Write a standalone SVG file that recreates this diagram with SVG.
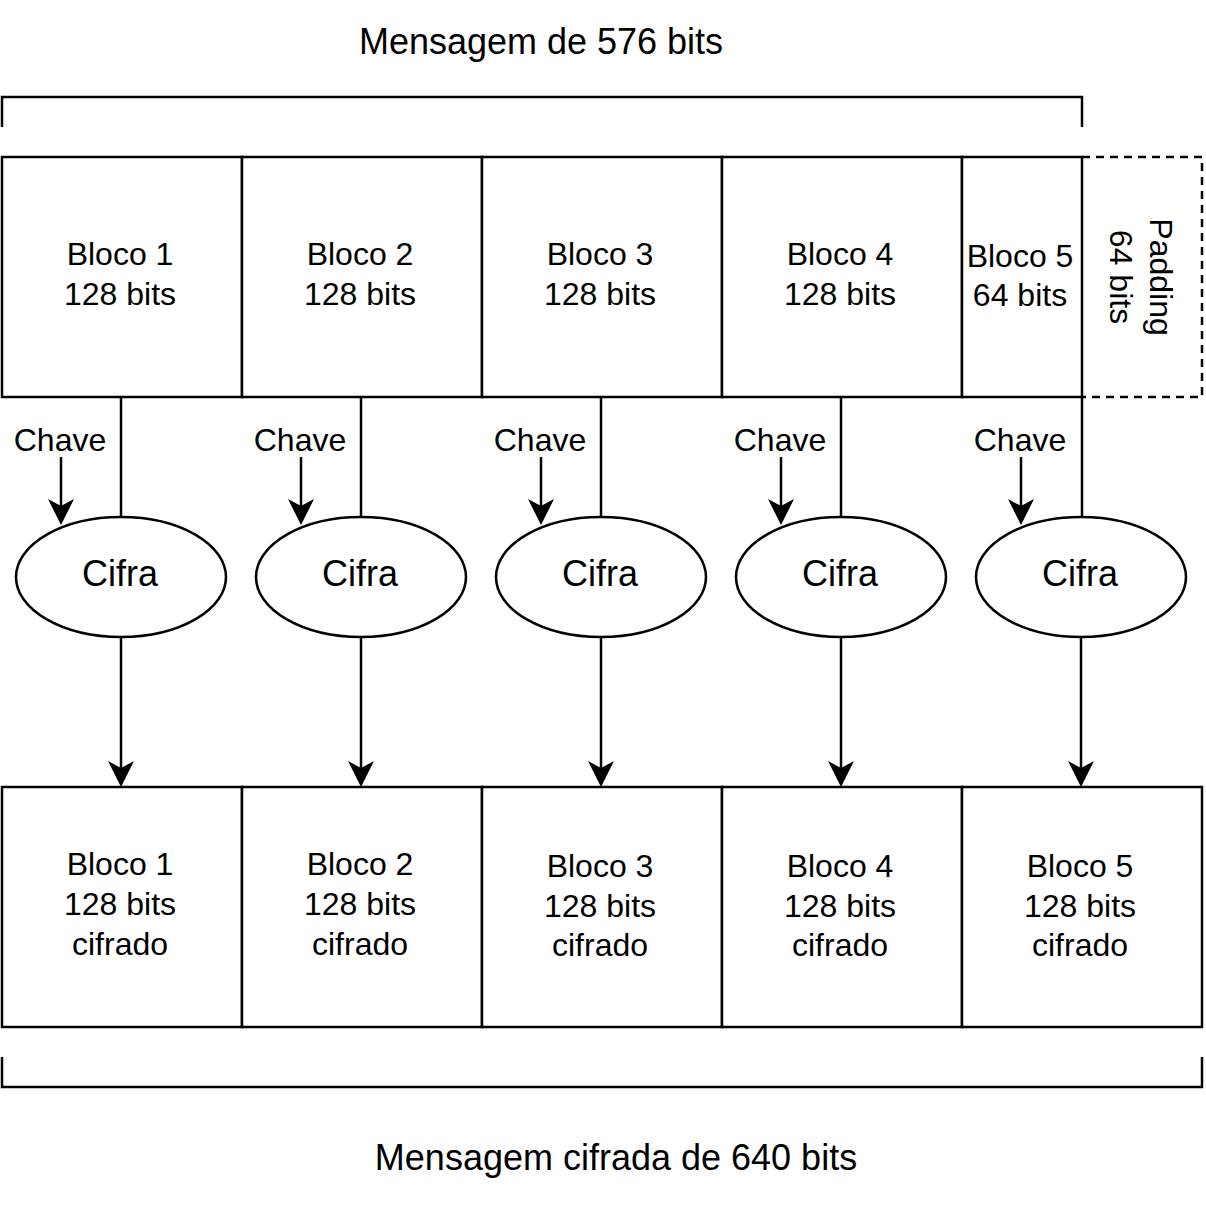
<svg xmlns="http://www.w3.org/2000/svg" width="1206" height="1206" viewBox="0 0 1206 1206">
<style>
.box{fill:#fff;stroke:#000;stroke-width:2.5}
.ell{fill:#fff;stroke:#000;stroke-width:2.5}
.ln{fill:none;stroke:#000;stroke-width:2.5}
.dash{fill:none;stroke:#000;stroke-width:2.5;stroke-dasharray:8 6}
.t{font-family:"Liberation Sans",Arial,Helvetica,sans-serif;font-size:32px;fill:#000;text-anchor:middle}
.tl{font-family:"Liberation Sans",Arial,Helvetica,sans-serif;font-size:36px;fill:#000;text-anchor:middle}
</style>
<defs>
<marker id="arr" markerUnits="userSpaceOnUse" markerWidth="26" markerHeight="26" viewBox="0 0 26 26" refX="16" refY="13" orient="auto">
<path d="M26,13 L0,0 L7,13 L0,26 Z" fill="#000"/>
</marker>
</defs>
<rect width="1206" height="1206" fill="#fff"/>

<g id="title-top"><text class="tl" x="541" y="54">Mensagem de 576 bits</text></g>
<g id="bracket-top"><path class="ln" d="M2,127 V97 H1082 V127"/></g>

<g id="padding">
<path class="dash" d="M1082,157 H1202 V397 H1082"/>
<g transform="translate(1143,277) rotate(90)">
<text class="t" x="0" y="-7">Padding</text>
<text class="t" x="0" y="33">64 bits</text>
</g>
</g>

<g id="bloco1"><rect class="box" x="2" y="157" width="240" height="240"/><text class="t" x="120" y="265">Bloco 1</text><text class="t" x="120" y="305">128 bits</text></g>
<g id="bloco2"><rect class="box" x="242" y="157" width="240" height="240"/><text class="t" x="360" y="265">Bloco 2</text><text class="t" x="360" y="305">128 bits</text></g>
<g id="bloco3"><rect class="box" x="482" y="157" width="240" height="240"/><text class="t" x="600" y="265">Bloco 3</text><text class="t" x="600" y="305">128 bits</text></g>
<g id="bloco4"><rect class="box" x="722" y="157" width="240" height="240"/><text class="t" x="840" y="265">Bloco 4</text><text class="t" x="840" y="305">128 bits</text></g>
<g id="bloco5"><rect class="box" x="962" y="157" width="120" height="240"/><text class="t" x="1020" y="267">Bloco 5</text><text class="t" x="1020" y="306">64 bits</text></g>

<g id="connectors">
<path class="ln" d="M121,397 V517"/>
<path class="ln" d="M361,397 V517"/>
<path class="ln" d="M601,397 V517"/>
<path class="ln" d="M841,397 V517"/>
<path class="ln" d="M1082,397 V517"/>
<path class="ln" d="M61,457 V515" marker-end="url(#arr)"/>
<path class="ln" d="M301,457 V515" marker-end="url(#arr)"/>
<path class="ln" d="M541,457 V515" marker-end="url(#arr)"/>
<path class="ln" d="M781,457 V515" marker-end="url(#arr)"/>
<path class="ln" d="M1021,457 V515" marker-end="url(#arr)"/>
<path class="ln" d="M121,637 V777" marker-end="url(#arr)"/>
<path class="ln" d="M361,637 V777" marker-end="url(#arr)"/>
<path class="ln" d="M601,637 V777" marker-end="url(#arr)"/>
<path class="ln" d="M841,637 V777" marker-end="url(#arr)"/>
<path class="ln" d="M1081,637 V777" marker-end="url(#arr)"/>
</g>

<g id="chave1"><text class="t" x="60" y="451">Chave</text></g>
<g id="chave2"><text class="t" x="300" y="451">Chave</text></g>
<g id="chave3"><text class="t" x="540" y="451">Chave</text></g>
<g id="chave4"><text class="t" x="780" y="451">Chave</text></g>
<g id="chave5"><text class="t" x="1020" y="451">Chave</text></g>

<g id="cifra1"><ellipse class="ell" cx="121" cy="577" rx="105" ry="60"/><text class="tl" x="120" y="586">Cifra</text></g>
<g id="cifra2"><ellipse class="ell" cx="361" cy="577" rx="105" ry="60"/><text class="tl" x="360" y="586">Cifra</text></g>
<g id="cifra3"><ellipse class="ell" cx="601" cy="577" rx="105" ry="60"/><text class="tl" x="600" y="586">Cifra</text></g>
<g id="cifra4"><ellipse class="ell" cx="841" cy="577" rx="105" ry="60"/><text class="tl" x="840" y="586">Cifra</text></g>
<g id="cifra5"><ellipse class="ell" cx="1081" cy="577" rx="105" ry="60"/><text class="tl" x="1080" y="586">Cifra</text></g>

<g id="cif1"><rect class="box" x="2" y="787" width="240" height="240"/><text class="t" x="120" y="875">Bloco 1</text><text class="t" x="120" y="915">128 bits</text><text class="t" x="120" y="955">cifrado</text></g>
<g id="cif2"><rect class="box" x="242" y="787" width="240" height="240"/><text class="t" x="360" y="875">Bloco 2</text><text class="t" x="360" y="915">128 bits</text><text class="t" x="360" y="955">cifrado</text></g>
<g id="cif3"><rect class="box" x="482" y="787" width="240" height="240"/><text class="t" x="600" y="877">Bloco 3</text><text class="t" x="600" y="917">128 bits</text><text class="t" x="600" y="956">cifrado</text></g>
<g id="cif4"><rect class="box" x="722" y="787" width="240" height="240"/><text class="t" x="840" y="877">Bloco 4</text><text class="t" x="840" y="917">128 bits</text><text class="t" x="840" y="956">cifrado</text></g>
<g id="cif5"><rect class="box" x="962" y="787" width="240" height="240"/><text class="t" x="1080" y="877">Bloco 5</text><text class="t" x="1080" y="917">128 bits</text><text class="t" x="1080" y="956">cifrado</text></g>

<g id="bracket-bottom"><path class="ln" d="M2,1057 V1087 H1202 V1057"/></g>
<g id="title-bottom"><text class="tl" x="616" y="1170">Mensagem cifrada de 640 bits</text></g>
</svg>
